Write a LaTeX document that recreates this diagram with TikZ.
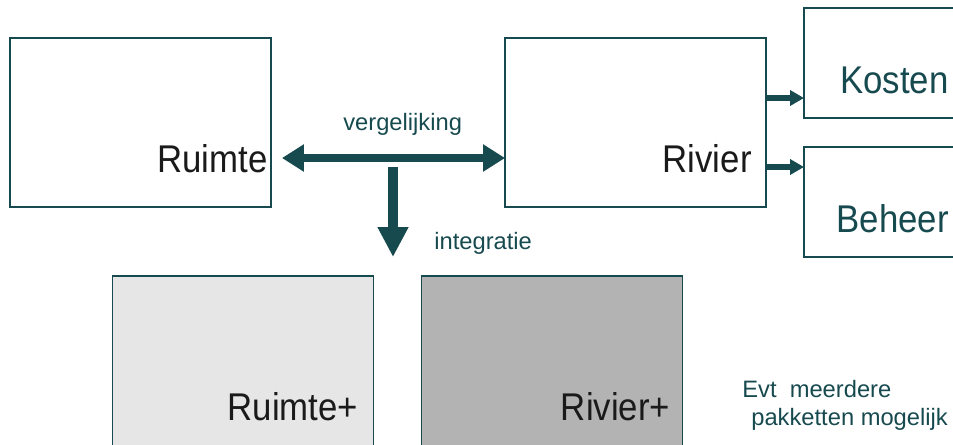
\documentclass[tikz,border=0pt]{standalone}
\usepackage{fontspec}
\setmainfont{Liberation Sans}
\newfontfamily\tallsans[FakeStretch=0.9]{Liberation Sans}
\usepackage{xcolor}
\usetikzlibrary{positioning, calc, arrows.meta}

\definecolor{deepteal}{RGB}{23,74,79}
\definecolor{inkgrey}{RGB}{26,26,26}
\definecolor{palegrey}{RGB}{230,230,230}
\definecolor{midgrey}{RGB}{179,179,179}

\begin{document}
\begin{tikzpicture}[x=0.02cm, y=-0.02cm,
        box/.style={draw=deepteal, line width=0.8pt, inner sep=0pt, outer sep=0pt,
                    minimum width=5.22cm, minimum height=3.38cm},
        sidebox/.style={box, minimum width=3.92cm, minimum height=2.2cm},
        bigtxt/.style={text=inkgrey, inner sep=0pt, font=\tallsans\fontsize{22}{26}\selectfont},
        tealtxt/.style={bigtxt, text=deepteal},
        smalltxt/.style={text=deepteal, inner sep=0pt, font=\fontsize{13.5}{16}\selectfont},
        dblarrow/.style={draw=deepteal, line width=4.5pt,
                         {Triangle[length=0.44cm, width=0.52cm]}-{Triangle[length=0.44cm, width=0.52cm]}},
        downarrow/.style={draw=deepteal, line width=5.7pt, -{Triangle[length=0.6cm, width=0.58cm]}},
        sidearrow/.style={draw=deepteal, line width=3.4pt, -{Triangle[length=0.28cm, width=0.3cm]}}]

        \useasboundingbox (0,0) rectangle (953,444);
        \clip (0,0) rectangle (953,444);

        % 1. Upper row: the two models that are compared
        \node[box] (ruimte) at (140.5,122.5) {};
        \node[box] (rivier) at (635.5,122.5) {};
        \node[bigtxt, anchor=base east] at ($(ruimte.south east)+(-3,-34)$) {Ruimte};
        \node[bigtxt, anchor=base east] at ($(rivier.south east)+(-14,-34)$) {Rivier};

        % 2. Side boxes fed by Rivier (run off the right edge)
        \node[sidebox] (kosten) at (902,63) {};
        \node[sidebox] (beheer) at (902,202) {};
        \node[tealtxt, anchor=base east] at (949,93) {Kosten};
        \node[tealtxt, anchor=base east] at (949,232) {Beheer};

        % 3. Lower row: the integrated models (cut off at the bottom)
        \node[box, fill=palegrey, minimum height=4.08cm] (ruimteplus) at (243,378) {};
        \node[box, fill=midgrey, minimum height=4.08cm] (rivierplus) at (552,378) {};
        \node[bigtxt, anchor=base east] at ($(ruimteplus.north east)+(-15,144)$) {Ruimte+};
        \node[bigtxt, anchor=base east] at ($(rivierplus.north east)+(-12,144)$) {Rivier+};

        % 4. Comparison arrow between Ruimte and Rivier
        \draw[dblarrow] ($(ruimte.east)+(11,35.5)$) -- ($(rivier.west)+(0,35.5)$);
        \node[smalltxt, anchor=base west] (vergelijking) at (343,130) {vergelijking};

        % 5. Integration arrow pointing down
        \coordinate (split) at (393,167);
        \coordinate (integ) at (393,257);
        \draw[downarrow] (split) -- (integ);
        \node[smalltxt, anchor=base west] (integratie) at (434,249) {integratie};

        % 6. Rivier feeds Kosten and Beheer
        \draw[sidearrow] ($(rivier.east)+(0,-24.5)$) -- ($(kosten.west)+(0,35)$);
        \draw[sidearrow] ($(rivier.east)+(0,44.5)$) -- ($(beheer.west)+(0,-35)$);

        % 7. Note
        \node[smalltxt, anchor=base west] (note) at (742,397) {Evt\ \ meerdere};
        \node[smalltxt, anchor=base west] (note2) at ($(note.base west)+(9,28)$) {pakketten mogelijk};

    \end{tikzpicture}
\end{document}
